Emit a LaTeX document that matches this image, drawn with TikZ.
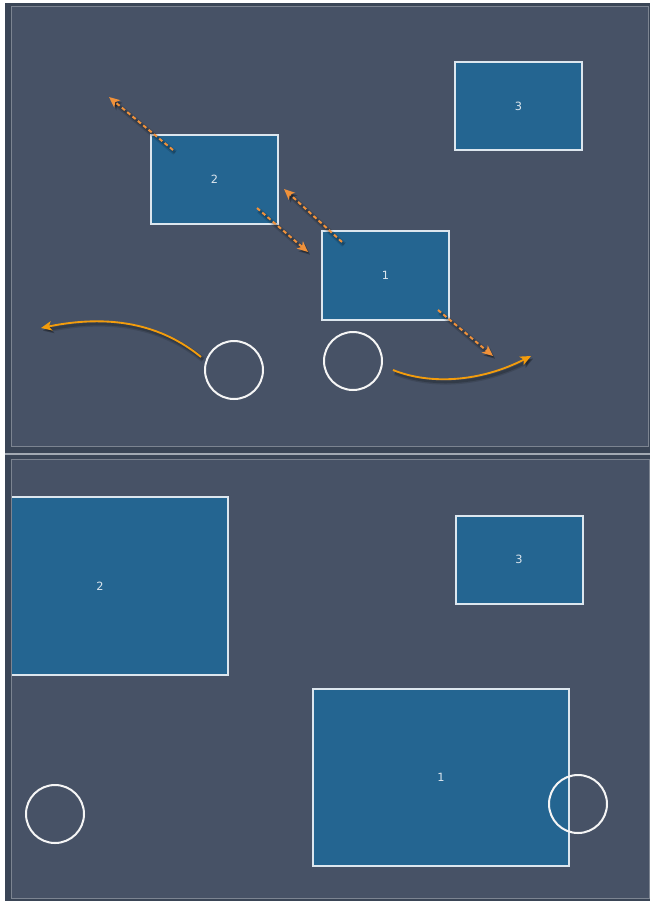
\documentclass[tikz,border=0pt]{standalone}
\usepackage{fontspec}
\setmainfont{DejaVu Sans}
\usetikzlibrary{arrows.meta}
\definecolor{outerbg}{HTML}{3A4556}
\definecolor{panelbg}{HTML}{475266}
\definecolor{panelline}{HTML}{7C8491}
\definecolor{sepline}{HTML}{A3AAB3}
\definecolor{boxfill}{HTML}{246591}
\definecolor{boxline}{HTML}{DCE6EE}
\definecolor{dashorange}{HTML}{F0913A}
\definecolor{curveorange}{HTML}{F39C0C}
\tikzset{
  panel/.style={fill=panelbg,draw=panelline,line width=0.75pt},
  shape box/.style={draw=boxline,fill=boxfill,line width=1.5pt,inner sep=0pt,
     font=\fontsize{8.5}{9}\selectfont,text=boxline},
  ring/.style={circle,draw=white!92!gray,line width=1.5pt,minimum size=43.5pt,inner sep=0pt},
  shadowed/.style={
     preaction={draw=black,solid,opacity=0.12,line width=4pt,
       transform canvas={shift={(1.5pt,-2pt)}}},
     preaction={draw=black,solid,opacity=0.18,line width=2pt,
       transform canvas={shift={(1.5pt,-2pt)}}}},
  dasharrow/.style={draw=dashorange,line width=1.5pt,dash pattern=on 3pt off 2.2pt,
     -{Stealth[length=8pt,width=7pt,inset=2pt]},shadowed},
  curvearrow/.style={draw=curveorange,line width=1.4pt,
     -{Stealth[length=8pt,width=7pt,inset=2pt]},shadowed},
}
\begin{document}
\begin{tikzpicture}[x=0.75pt,y=-0.75pt]
\useasboundingbox (0,0) rectangle (650,901);
\fill[white] (0,0) rectangle (650,901);
\fill[outerbg] (5,3) rectangle (650,901);
% top panel
\path[panel] (11.5,6.5) rectangle (648.5,446.5);
% separator
\draw[sepline,line width=1.2pt] (5,454) -- (650,454);
% bottom panel
\path[panel] (11.5,459.5) rectangle (649.5,898.5);

% ---------- top panel ----------
\node[shape box,minimum width=95.25pt,minimum height=66.75pt] (t2) at (214.5,179.5) {2};
\node[shape box,minimum width=95.25pt,minimum height=66.75pt] (t1) at (385.5,275.5) {1};
\node[shape box,minimum width=95.25pt,minimum height=66pt] (t3) at (518.5,106) {3};
\node[ring] (tc1) at (234,370) {};
\node[ring] (tc2) at (353,361) {};

\coordinate (a1s) at (173,150);
\coordinate (a1e) at (109,97);
\coordinate (a2s) at (257,208);
\coordinate (a2e) at (308,252);
\coordinate (a3s) at (342,242);
\coordinate (a3e) at (284,189);
\coordinate (a4s) at (438,310);
\coordinate (a4e) at (493,356);
\path[dasharrow] (a1s) -- (a1e);
\path[dasharrow] (a2s) -- (a2e);
\path[dasharrow] (a3s) -- (a3e);
\path[dasharrow] (a4s) -- (a4e);

\coordinate (c1s) at (201,357);
\coordinate (c1e) at (41,328);
\coordinate (c2s) at (393,370);
\coordinate (c2e) at (531,356);
\path[curvearrow] (c1s) .. controls (150,315) and (90,318) .. (c1e);
\path[curvearrow] (c2s) .. controls (430,385) and (480,382) .. (c2e);

% ---------- bottom panel ----------
\begin{scope}
\clip (12.2,460.2) rectangle (648.8,897.8);
\node[shape box,minimum width=192pt,minimum height=133.5pt] (b2) at (100,586) {2};
\node[shape box,minimum width=192pt,minimum height=132.75pt] (b1) at (441,777.5) {1};
\node[shape box,minimum width=95.25pt,minimum height=66pt] (b3) at (519,559.5) {3};
\node[ring] (bc1) at (55,814) {};
\node[ring] (bc2) at (578,804) {};
\end{scope}
\end{tikzpicture}
\end{document}
